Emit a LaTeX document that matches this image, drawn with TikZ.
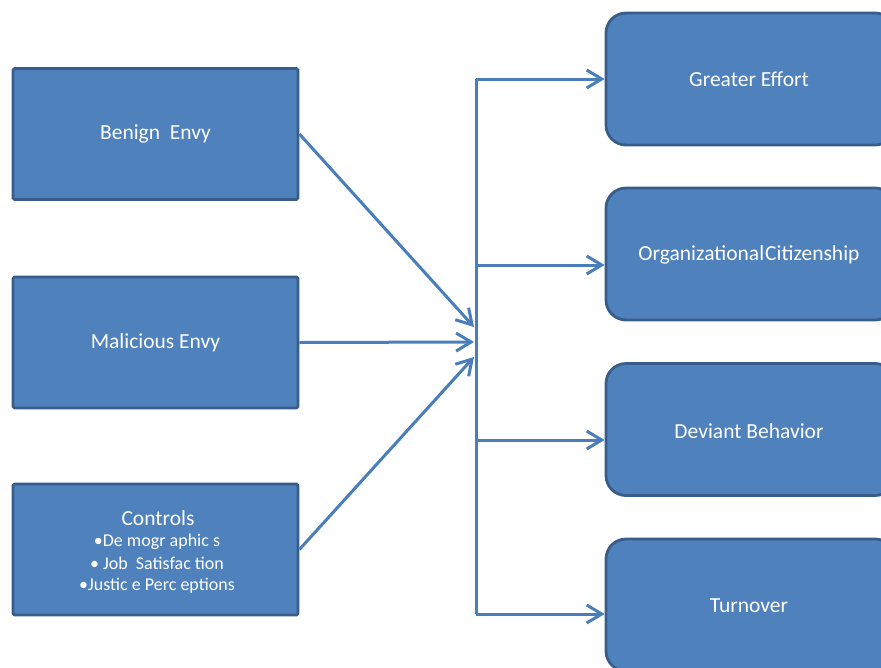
\documentclass[tikz,border=0pt]{standalone}
\usepackage{fontspec}
\setmainfont{Carlito}
\usetikzlibrary{arrows.meta}
\definecolor{boxfill}{HTML}{4F81BD}
\definecolor{boxedge}{HTML}{385D8A}
\definecolor{linkcol}{HTML}{4A7EBB}
\newcommand{\boxfont}{\fontsize{21.5}{26}\selectfont}
\newcommand{\listfont}{\fontsize{18}{22}\selectfont}
\begin{document}
\begin{tikzpicture}[x=1pt,y=-1pt,
  srcbox/.style={draw=boxedge,fill=boxfill,line width=2.8pt,rounded corners=1.5pt,
    minimum width=285pt,minimum height=131pt,inner sep=0pt,text=white,font=\boxfont},
  outbox/.style={draw=boxedge,fill=boxfill,line width=2.8pt,rounded corners=20pt,
    minimum width=289pt,minimum height=132pt,inner sep=0pt},
  outlabel/.style={text=white,font=\boxfont,inner sep=0pt},
  link/.style={draw=linkcol,line width=3pt},
  arr/.style={link,-{Straight Barb[length=15pt,width=18pt,line width=3pt]}}
]
\useasboundingbox (0,0) rectangle (881,667);

% input boxes
\node[srcbox] (benign) at (155.5,134) {Benign\ \ Envy};
\node[srcbox] (malicious) at (155.5,342.5) {Malicious Envy};
\node[srcbox] (controls) at (155.5,549.5) {};
\node[text=white,font=\boxfont,inner sep=0pt] (ctrltitle) at (158,518) {Controls};
\node[text=white,font=\listfont,inner sep=0pt] (ctrl1) at (157,541.5) {\textbullet De mogr aphic s};
\node[text=white,font=\listfont,inner sep=0pt] (ctrl2) at (157,563.5) {\textbullet\ Job\ \ Satisfac tion};
\node[text=white,font=\listfont,inner sep=0pt] (ctrl3) at (157,585.5) {\textbullet Justic e Perc eptions};

% outcome boxes
\node[outbox] (effort) at (750.5,79) {};
\node[outlabel] (efforttxt) at (749,79) {Greater Effort};
\node[outbox] (ocb) at (750.5,254) {};
\node[outlabel] (ocbtxt) at (749,255) {Organizational\hspace{1pt}Citizenship};
\node[outbox] (deviant) at (750.5,429.5) {};
\node[outlabel] (devianttxt) at (749,431) {Deviant Behavior};
\node[outbox] (turnover) at (750.5,605) {};
\node[outlabel] (turnovertxt) at (749,606) {Turnover};

% hub
\coordinate (hubtop) at (476,79);
\coordinate (hubbot) at (476,614);
\coordinate (inA) at (474,327);
\coordinate (inB) at (474,342);
\coordinate (inC) at (474,357);
\coordinate (tap2) at (476,265);
\coordinate (tap3) at (476,440);

\draw[link] (hubtop) -- (hubbot);

% incoming arrows
\draw[arr] (benign.east) -- (inA);
\draw[arr] (malicious.east) -- (inB);
\draw[arr] (controls.east) -- (inC);

% outgoing arrows
\draw[arr] (hubtop) -- (effort.west |- hubtop);
\draw[arr] (tap2) -- (ocb.west |- tap2);
\draw[arr] (tap3) -- (deviant.west |- tap3);
\draw[arr] (hubbot) -- (turnover.west |- hubbot);
\end{tikzpicture}
\end{document}
